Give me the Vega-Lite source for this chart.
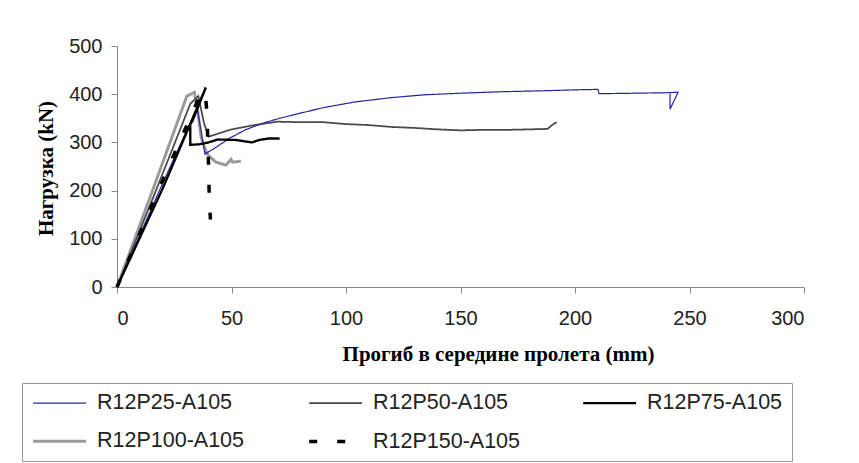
{
  "$schema": "https://vega.github.io/schema/vega-lite/v6.json",
  "width": 687,
  "height": 241,
  "autosize": "none",
  "padding": {"left": 117, "top": 46, "right": 55, "bottom": 176},
  "background": "white",
  "config": {
    "view": {"stroke": null},
    "axis": {
      "grid": false,
      "domainColor": "#888888",
      "tickColor": "#888888",
      "tickSize": 6,
      "labelFont": "Liberation Sans",
      "labelFontSize": 20,
      "labelColor": "#222222",
      "titleFont": "Liberation Serif",
      "titleFontWeight": "bold",
      "titleFontSize": 21,
      "titleColor": "#000000"
    },
    "legend": {
      "labelFont": "Liberation Sans",
      "labelFontSize": 21.5,
      "labelColor": "#222222"
    }
  },
  "data": {
    "values": [
      {"s": "R12P100-A105", "i": 0, "x": 0, "y": 0},
      {"s": "R12P100-A105", "i": 1, "x": 15.5, "y": 200},
      {"s": "R12P100-A105", "i": 2, "x": 30.5, "y": 396},
      {"s": "R12P100-A105", "i": 3, "x": 33.8, "y": 404},
      {"s": "R12P100-A105", "i": 4, "x": 35.2, "y": 366},
      {"s": "R12P100-A105", "i": 5, "x": 36.7, "y": 311},
      {"s": "R12P100-A105", "i": 6, "x": 39.3, "y": 276},
      {"s": "R12P100-A105", "i": 7, "x": 43.2, "y": 259},
      {"s": "R12P100-A105", "i": 8, "x": 47.6, "y": 253},
      {"s": "R12P100-A105", "i": 9, "x": 49.8, "y": 265},
      {"s": "R12P100-A105", "i": 10, "x": 50.5, "y": 259},
      {"s": "R12P100-A105", "i": 11, "x": 54.1, "y": 261},

      {"s": "R12P50-A105", "i": 0, "x": 0, "y": 0},
      {"s": "R12P50-A105", "i": 1, "x": 17, "y": 200},
      {"s": "R12P50-A105", "i": 2, "x": 32, "y": 380},
      {"s": "R12P50-A105", "i": 3, "x": 35.5, "y": 396},
      {"s": "R12P50-A105", "i": 4, "x": 38, "y": 340},
      {"s": "R12P50-A105", "i": 5, "x": 40, "y": 312},
      {"s": "R12P50-A105", "i": 6, "x": 44, "y": 318},
      {"s": "R12P50-A105", "i": 7, "x": 50, "y": 327},
      {"s": "R12P50-A105", "i": 8, "x": 60, "y": 336},
      {"s": "R12P50-A105", "i": 9, "x": 70, "y": 343},
      {"s": "R12P50-A105", "i": 10, "x": 80, "y": 342},
      {"s": "R12P50-A105", "i": 11, "x": 90, "y": 342},
      {"s": "R12P50-A105", "i": 12, "x": 100, "y": 338},
      {"s": "R12P50-A105", "i": 13, "x": 110, "y": 336},
      {"s": "R12P50-A105", "i": 14, "x": 120, "y": 332},
      {"s": "R12P50-A105", "i": 15, "x": 130, "y": 330},
      {"s": "R12P50-A105", "i": 16, "x": 140, "y": 327},
      {"s": "R12P50-A105", "i": 17, "x": 150, "y": 325},
      {"s": "R12P50-A105", "i": 18, "x": 160, "y": 326},
      {"s": "R12P50-A105", "i": 19, "x": 170, "y": 326},
      {"s": "R12P50-A105", "i": 20, "x": 180, "y": 327},
      {"s": "R12P50-A105", "i": 21, "x": 188, "y": 328},
      {"s": "R12P50-A105", "i": 22, "x": 190, "y": 336},
      {"s": "R12P50-A105", "i": 23, "x": 192, "y": 342},

      {"s": "R12P25-A105", "i": 0, "x": 0, "y": 0},
      {"s": "R12P25-A105", "i": 1, "x": 18.5, "y": 200},
      {"s": "R12P25-A105", "i": 2, "x": 35, "y": 372},
      {"s": "R12P25-A105", "i": 3, "x": 36.5, "y": 330},
      {"s": "R12P25-A105", "i": 4, "x": 38.4, "y": 276},
      {"s": "R12P25-A105", "i": 5, "x": 42, "y": 286},
      {"s": "R12P25-A105", "i": 6, "x": 49.3, "y": 309},
      {"s": "R12P25-A105", "i": 7, "x": 56, "y": 326},
      {"s": "R12P25-A105", "i": 8, "x": 63.8, "y": 340},
      {"s": "R12P25-A105", "i": 9, "x": 71, "y": 350},
      {"s": "R12P25-A105", "i": 10, "x": 78.6, "y": 359},
      {"s": "R12P25-A105", "i": 11, "x": 90, "y": 372},
      {"s": "R12P25-A105", "i": 12, "x": 104, "y": 384},
      {"s": "R12P25-A105", "i": 13, "x": 120, "y": 393},
      {"s": "R12P25-A105", "i": 14, "x": 135, "y": 399},
      {"s": "R12P25-A105", "i": 15, "x": 150, "y": 402},
      {"s": "R12P25-A105", "i": 16, "x": 167, "y": 405},
      {"s": "R12P25-A105", "i": 17, "x": 185, "y": 407},
      {"s": "R12P25-A105", "i": 18, "x": 200, "y": 409},
      {"s": "R12P25-A105", "i": 19, "x": 210, "y": 410},
      {"s": "R12P25-A105", "i": 20, "x": 210.5, "y": 401},
      {"s": "R12P25-A105", "i": 21, "x": 225, "y": 402},
      {"s": "R12P25-A105", "i": 22, "x": 240, "y": 403},
      {"s": "R12P25-A105", "i": 23, "x": 245, "y": 404},
      {"s": "R12P25-A105", "i": 24, "x": 241.5, "y": 369},
      {"s": "R12P25-A105", "i": 25, "x": 241.5, "y": 401},

      {"s": "R12P150-A105", "i": 0, "x": 0, "y": 0},
      {"s": "R12P150-A105", "i": 1, "x": 18, "y": 200},
      {"s": "R12P150-A105", "i": 2, "x": 36, "y": 395},
      {"s": "R12P150-A105", "i": 3, "x": 38.5, "y": 405},
      {"s": "R12P150-A105", "i": 4, "x": 39.3, "y": 360},
      {"s": "R12P150-A105", "i": 5, "x": 40, "y": 250},
      {"s": "R12P150-A105", "i": 6, "x": 40.3, "y": 180},
      {"s": "R12P150-A105", "i": 7, "x": 40.8, "y": 140},

      {"s": "R12P75-A105", "i": 0, "x": 0, "y": 0},
      {"s": "R12P75-A105", "i": 1, "x": 20, "y": 205},
      {"s": "R12P75-A105", "i": 2, "x": 38.8, "y": 414},
      {"s": "R12P75-A105", "i": 3, "x": 33, "y": 345},
      {"s": "R12P75-A105", "i": 4, "x": 32, "y": 338},
      {"s": "R12P75-A105", "i": 5, "x": 32, "y": 295},
      {"s": "R12P75-A105", "i": 6, "x": 36, "y": 296},
      {"s": "R12P75-A105", "i": 7, "x": 40, "y": 300},
      {"s": "R12P75-A105", "i": 8, "x": 44, "y": 306},
      {"s": "R12P75-A105", "i": 9, "x": 52, "y": 305},
      {"s": "R12P75-A105", "i": 10, "x": 56, "y": 302},
      {"s": "R12P75-A105", "i": 11, "x": 59, "y": 300},
      {"s": "R12P75-A105", "i": 12, "x": 62, "y": 305},
      {"s": "R12P75-A105", "i": 13, "x": 66, "y": 308},
      {"s": "R12P75-A105", "i": 14, "x": 71, "y": 308}
    ]
  },
  "mark": {"type": "line", "strokeCap": "butt", "strokeJoin": "miter"},
  "encoding": {
    "x": {
      "field": "x", "type": "quantitative",
      "scale": {"domain": [0, 300], "nice": false, "zero": true},
      "axis": {
        "values": [0, 50, 100, 150, 200, 250, 300],
        "labelPadding": 15,
        "title": "Прогиб в середине пролета (mm)",
        "titleX": 381, "titleY": 67, "titleBaseline": "middle", "titleAlign": "center"
      }
    },
    "y": {
      "field": "y", "type": "quantitative",
      "scale": {"domain": [0, 500], "nice": false},
      "axis": {
        "values": [0, 100, 200, 300, 400, 500],
        "labelPadding": 9,
        "title": "Нагрузка (kN)",
        "titleX": -71, "titleY": 122, "titleBaseline": "middle", "titleAlign": "center", "titleAngle": -90
      }
    },
    "order": {"field": "i", "type": "quantitative"},
    "color": {
      "field": "s", "type": "nominal",
      "scale": {
        "domain": ["R12P25-A105", "R12P50-A105", "R12P75-A105", "R12P100-A105", "R12P150-A105"],
        "range": ["#2424a0", "#4a4a4a", "#000000", "#9a9a9a", "#000000"]
      },
      "legend": {
        "title": null,
        "orient": "none",
        "direction": "horizontal",
        "legendX": -95,
        "legendY": 337,
        "columns": 3,
        "columnPadding": 57,
        "rowPadding": 15.5,
        "padding": 9,
        "symbolType": "M-1,0H5",
        "symbolSize": 311,
        "symbolOffset": 0,
        "labelOffset": 44,
        "strokeColor": "#999999",
        "labelExpr": "datum.label == 'R12P75-A105' ? datum.label + '\u00a0\u00a0\u00a0\u00a0\u00a0\u00a0\u00a0\u00a0\u00a0\u00a0' : datum.label"
      }
    },
    "strokeWidth": {
      "field": "s", "type": "nominal",
      "scale": {
        "domain": ["R12P25-A105", "R12P50-A105", "R12P75-A105", "R12P100-A105", "R12P150-A105"],
        "range": [1.2, 3.5, 4, 4, 4]
      }
    },
    "strokeDash": {
      "field": "s", "type": "nominal",
      "scale": {
        "domain": ["R12P25-A105", "R12P50-A105", "R12P75-A105", "R12P100-A105", "R12P150-A105"],
        "range": [[1, 0], [1, 0], [1, 0], [1, 0], [8, 20]]
      }
    }
  }
}
